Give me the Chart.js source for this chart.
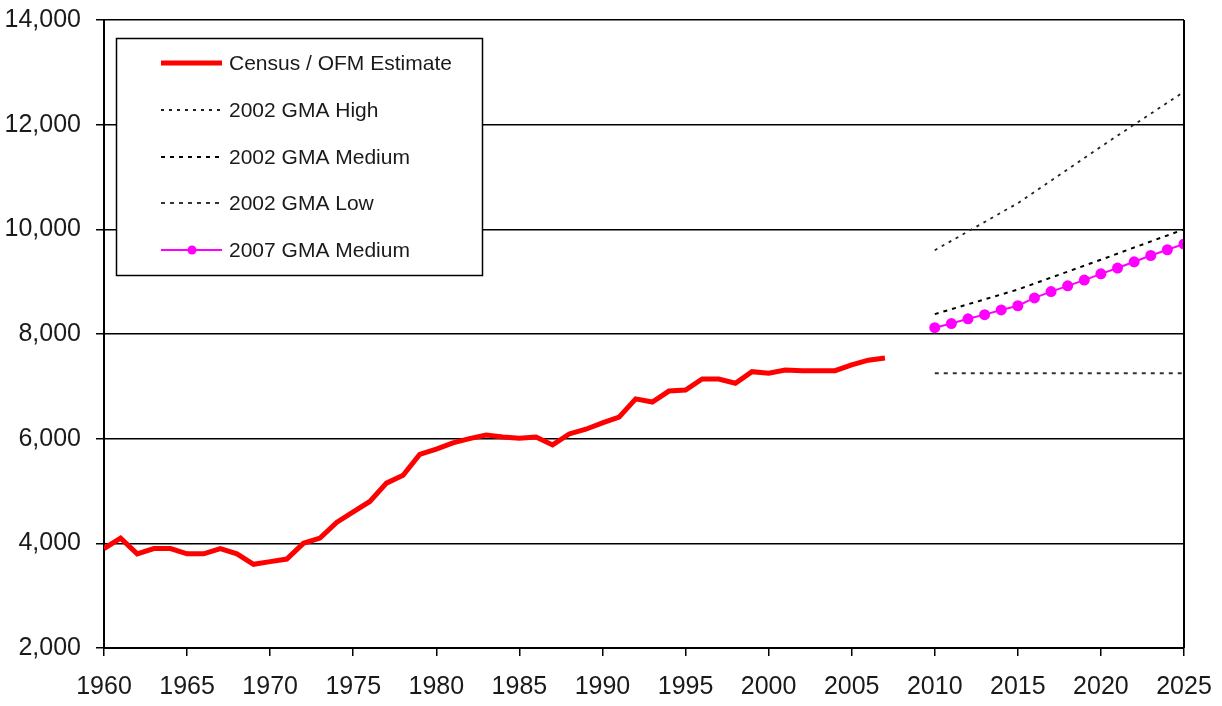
<!DOCTYPE html>
<html>
<head>
<meta charset="utf-8">
<script src="https://cdn.jsdelivr.net/npm/chart.js@4"></script>
<style>
  body { margin: 0; background: #fff; }
  canvas { display: block; }
</style>
</head>
<body>
<canvas id="popChart" width="1222" height="706"></canvas>
<script>
const censusYears = [1960, 1961, 1962, 1963, 1964, 1965, 1966, 1967, 1968, 1969,
  1970, 1971, 1972, 1973, 1974, 1975, 1976, 1977, 1978, 1979,
  1980, 1981, 1982, 1983, 1984, 1985, 1986, 1987, 1988, 1989,
  1990, 1991, 1992, 1993, 1994, 1995, 1996, 1997, 1998, 1999,
  2000, 2001, 2002, 2003, 2004, 2005, 2006, 2007];
const censusValues = [3900, 4100, 3800, 3900, 3900, 3800, 3800, 3900, 3800, 3600,
  3650, 3700, 4000, 4100, 4400, 4600, 4800, 5150, 5300, 5700,
  5800, 5920, 6000, 6070, 6030, 6010, 6030, 5880, 6090, 6180,
  6300, 6410, 6760, 6700, 6910, 6930, 7140, 7140, 7060, 7280,
  7250, 7310, 7300, 7300, 7300, 7410, 7500, 7540];

const gma2002Years = [2010, 2015, 2020, 2025];
const gma2002High = [9600, 10500, 11580, 12630];
const gma2002Medium = [8380, 8850, 9420, 10000];
const gma2002Low = [7250, 7250, 7250, 7250];

const gma2007Years = [2010, 2011, 2012, 2013, 2014, 2015, 2016, 2017,
  2018, 2019, 2020, 2021, 2022, 2023, 2024, 2025];
const gma2007Medium = [8120, 8200, 8290, 8370, 8460, 8540, 8690, 8810,
  8920, 9030, 9150, 9260, 9380, 9500, 9610, 9720];

const xTicks = [1960, 1965, 1970, 1975, 1980, 1985, 1990, 1995, 2000,
  2005, 2010, 2015, 2020, 2025];
const yTicks = [2000, 4000, 6000, 8000, 10000, 12000, 14000];

const FONT = "'Liberation Sans Narrow', 'Arial Narrow', 'Liberation Sans', sans-serif";

function pairs(xs, ys) {
  return xs.map((x, i) => ({ x: x, y: ys[i] }));
}

// legend drawn as a box inside the plot, like the original
const legendBox = {
  id: "legendBox",
  afterDatasetsDraw(chart) {
    const ctx = chart.ctx;
    ctx.save();
    ctx.fillStyle = "#fff";
    ctx.fillRect(116, 38, 366, 237);
    ctx.strokeStyle = "#000";
    ctx.lineWidth = 1.5;
    ctx.strokeRect(116.5, 38.5, 366, 237);

    const rows = [63, 110, 157, 203, 250];
    chart.data.datasets.forEach((ds, i) => {
      const y = rows[i];
      ctx.beginPath();
      ctx.strokeStyle = ds.borderColor;
      ctx.lineWidth = ds.borderWidth;
      ctx.setLineDash(ds.borderDash || []);
      ctx.moveTo(161, y);
      ctx.lineTo(222, y);
      ctx.stroke();
      ctx.setLineDash([]);
      if (ds.pointRadius > 0) {
        ctx.beginPath();
        ctx.fillStyle = ds.pointBackgroundColor;
        ctx.arc(192, y, 4.5, 0, Math.PI * 2);
        ctx.fill();
      }
      ctx.fillStyle = "#1a1a1a";
      ctx.font = "21px " + FONT;
      ctx.textBaseline = "middle";
      ctx.fillText(ds.label, 229, y + 1);
    });

    // right edge of the plot frame
    const a = chart.chartArea;
    ctx.beginPath();
    ctx.strokeStyle = "#000";
    ctx.lineWidth = 2;
    ctx.moveTo(a.right, a.top);
    ctx.lineTo(a.right, a.bottom);
    ctx.stroke();
    ctx.restore();
  }
};

const data = {
  datasets: [
    {
      label: "Census / OFM Estimate",
      data: pairs(censusYears, censusValues),
      borderColor: "#ff0000",
      borderWidth: 5,
      pointRadius: 0,
    },
    {
      label: "2002 GMA High",
      data: pairs(gma2002Years, gma2002High),
      borderColor: "#222",
      borderWidth: 1.8,
      borderDash: [3, 5],
      pointRadius: 0,
    },
    {
      label: "2002 GMA Medium",
      data: pairs(gma2002Years, gma2002Medium),
      borderColor: "#000",
      borderWidth: 2,
      borderDash: [4, 5],
      pointRadius: 0,
    },
    {
      label: "2002 GMA Low",
      data: pairs(gma2002Years, gma2002Low),
      borderColor: "#333",
      borderWidth: 2,
      borderDash: [4, 5],
      pointRadius: 0,
    },
    {
      label: "2007 GMA Medium",
      data: pairs(gma2007Years, gma2007Medium),
      borderColor: "#ff00ff",
      borderWidth: 2,
      pointRadius: 5.5,
      pointBackgroundColor: "#ff00ff",
      pointBorderColor: "#ff00ff",
      pointBorderWidth: 0,
    },
  ],
};

const config = {
  type: "line",
  data,
  options: {
    responsive: false,
    animation: false,
    devicePixelRatio: 1,
    layout: { padding: { top: 20, right: 38, left: 0, bottom: 0 } },
    plugins: { legend: { display: false }, tooltip: { enabled: false } },
    elements: { line: { tension: 0 } },
    scales: {
      x: {
        type: "linear",
        min: 1960,
        max: 2025,
        afterBuildTicks: (s) => { s.ticks = xTicks.map((v) => ({ value: v })); },
        afterFit: (s) => { s.height = 58; s.paddingLeft = 0; s.paddingRight = 0; },
        ticks: {
          callback: (v) => String(v),
          font: { family: FONT, size: 25 },
          color: "#1a1a1a",
          padding: 16,
          maxRotation: 0,
          autoSkip: false,
        },
        grid: { drawOnChartArea: false, color: "#000", lineWidth: 1.5, tickLength: 8 },
        border: { color: "#000", width: 2 },
      },
      y: {
        min: 2000,
        max: 14000,
        afterBuildTicks: (s) => { s.ticks = yTicks.map((v) => ({ value: v })); },
        afterFit: (s) => { s.width = 104; s.paddingTop = 0; s.paddingBottom = 0; },
        ticks: {
          callback: (v) => v.toLocaleString("en-US"),
          font: { family: FONT, size: 25 },
          color: "#1a1a1a",
          padding: 15,
        },
        grid: { color: "#000", lineWidth: 1.5, tickLength: 8 },
        border: { color: "#000", width: 2 },
      },
    },
  },
  plugins: [legendBox],
};

new Chart(document.getElementById("popChart"), config);
</script>
</body>
</html>
